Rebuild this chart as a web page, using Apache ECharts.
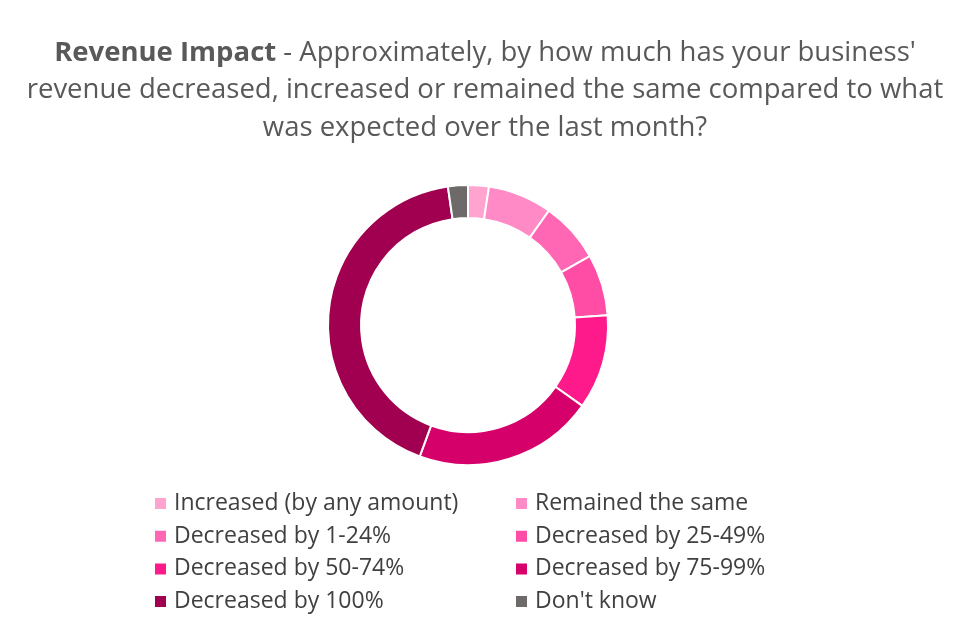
<!DOCTYPE html>
<html><head><meta charset="utf-8">
<script src="https://cdn.jsdelivr.net/npm/echarts@6/dist/echarts.min.js"></script>
<style>html,body{margin:0;padding:0;background:#fff}#c{width:960px;height:640px}</style>
</head><body><div id="c"></div>
<script>
const categories = ["Increased (by any amount)","Remained the same","Decreased by 1-24%","Decreased by 25-49%","Decreased by 50-74%","Decreased by 75-99%","Decreased by 100%","Don't know"];
const values = [2.4, 7.4, 7.0, 7.1, 10.9, 20.8, 42.1, 2.3];
const colors = ["#FFA3CF","#FF8AC6","#FF66B3","#FF4DA6","#FF1A8C","#D6006B","#A0004F","#6E6A6A"];
const leftLegend = [categories[0], categories[2], categories[4], categories[6]];
const rightLegend = [categories[1], categories[3], categories[5], categories[7]];
const FONT = "'Open Sans', sans-serif";

const chart = echarts.init(document.getElementById('c'));
const legendBase = {
  orient: 'vertical', top: 487, itemWidth: 13, itemHeight: 13, itemGap: 9.7,
  icon: 'rect', selectedMode: false,
  textStyle: {fontFamily: FONT, fontSize: 23, color: '#404040', lineHeight: 23, padding:[0,0,0,2]}
};
chart.setOption({
  color: colors,
  title: {
    left: 480, top: 29, textAlign: 'center',
    text: "{b|Revenue Impact} - Approximately, by how much has your business'\nrevenue decreased, increased or remained the same compared to what\nwas expected over the last month?",
    textStyle: {
      fontFamily: FONT, fontSize: 27.5, fontWeight: 'normal', color: '#595959', lineHeight: 37.5,
      rich: {b: {fontFamily: FONT, fontSize: 27.5, fontWeight: 'bold', color: '#595959', lineHeight: 37.5}}
    }
  },
  legend: [
    Object.assign({}, legendBase, {left: 148, data: leftLegend}),
    Object.assign({}, legendBase, {left: 509, data: rightLegend})
  ],
  series: [{
    type: 'pie', center: [468, 325], radius: [107, 140], startAngle: 90, clockwise: true,
    label: {show: false}, labelLine: {show: false}, silent: true,
    itemStyle: {borderColor: '#fff', borderWidth: 2},
    data: categories.map((n, i) => ({name: n, value: values[i]}))
  }]
});
</script></body></html>
